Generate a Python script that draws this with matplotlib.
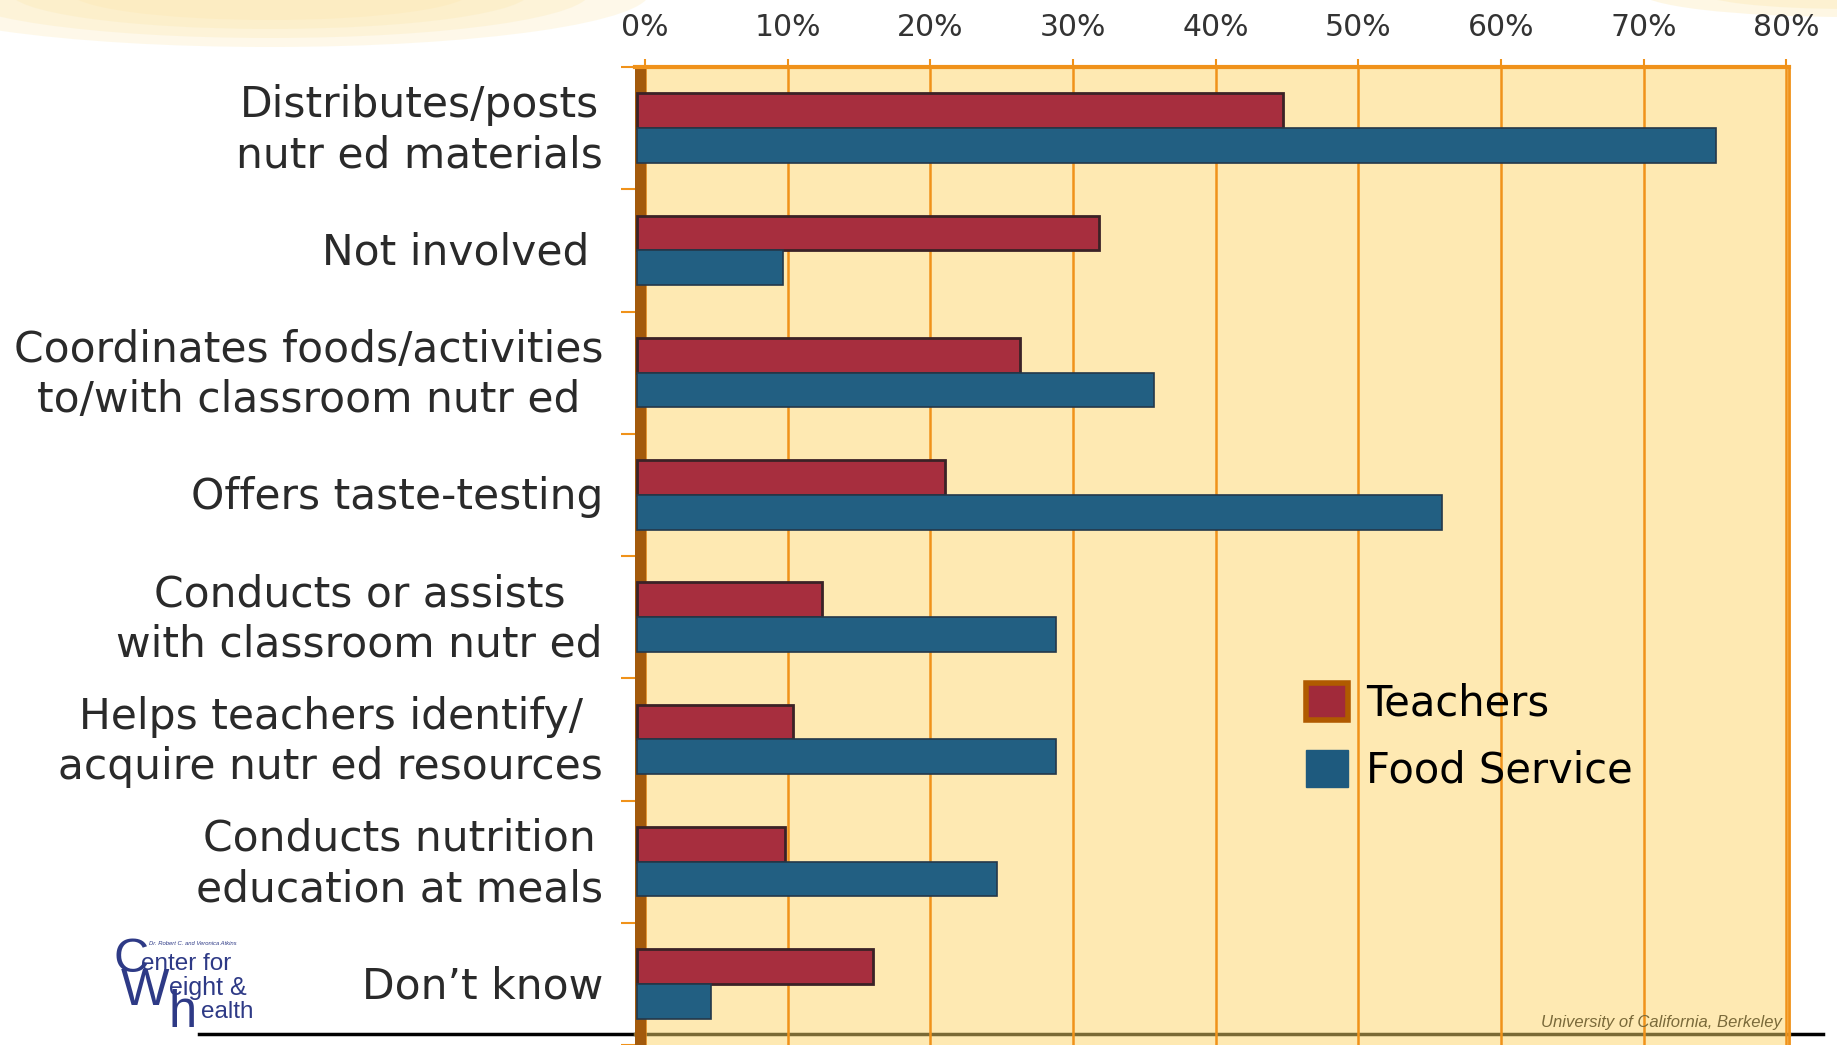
import numpy as np
import matplotlib
matplotlib.use("Agg")
import matplotlib.pyplot as plt
import matplotlib.transforms as mtransforms
from matplotlib.patches import Patch, Ellipse
from matplotlib.lines import Line2D

categories = [
    "Distributes/posts\nnutr ed materials",
    "Not involved ",
    "Coordinates foods/activities\nto/with classroom nutr ed",
    "Offers taste-testing",
    "Conducts or assists\nwith classroom nutr ed",
    "Helps teachers identify/\nacquire nutr ed resources",
    "Conducts nutrition\neducation at meals",
    "Don\u2019t know",
]
teachers = [44.7, 31.8, 26.3, 21.0, 12.4, 10.4, 9.8, 16.0]
food_service = [75.1, 9.7, 35.7, 55.9, 28.8, 28.8, 24.7, 4.6]
xticks = [0, 10, 20, 30, 40, 50, 60, 70, 80]

W, H = 1837, 1045
red = "#A72E3E"
blue = "#225F82"
orange = "#F0921A"
plot_bg = "#FEE9B2"

def fx(x):
    return x / W

def fy(y):
    return 1 - y / H

fig = plt.figure(figsize=(W / 100, H / 100), dpi=100)
fig.patch.set_facecolor("white")

# faint yellow swoosh at the top of the slide (soft, layered)
for w, hh in [(760, 110), (640, 92), (520, 74), (400, 56)]:
    fig.add_artist(Ellipse((fx(270), fy(-8)), w / W, hh / H, color="#FCE6A8",
                           alpha=0.25, lw=0, zorder=0))
for w, hh in [(420, 50), (300, 34)]:
    fig.add_artist(Ellipse((fx(1850), fy(-8)), w / W, hh / H, color="#FCE6A8",
                           alpha=0.3, lw=0, zorder=0))

ax = fig.add_axes([fx(635), 0, (1789 - 635) / W, 1 - 67 / H])
ax.set_facecolor(plot_bg)
ax.set_xlim(-0.7, 80.2)
ax.set_ylim(len(categories) - 0.5, -0.5)

y = np.arange(len(categories))
h = 0.285
start = -0.55
ax.barh(y - h / 2, np.array(teachers) - start, left=start, height=h, color=red,
        edgecolor="#3b2226", linewidth=2, zorder=3)
ax.barh(y + h / 2, np.array(food_service) - start, left=start, height=h, color=blue,
        edgecolor="#24384a", linewidth=1.2, zorder=3)

# brown wall at the left
ax.axvspan(-0.7, 0, color="#A35A0C", zorder=2)

ax.set_axisbelow(True)
ax.grid(axis="x", color=orange, linewidth=1.8)
ax.grid(axis="y", visible=False)
ax.xaxis.tick_top()
ax.set_xticks(xticks)
ax.set_xticklabels([f"{t}%" for t in xticks])
ax.tick_params(axis="x", colors=orange, length=6, width=1.5, pad=12,
               labelsize=21.5, labelcolor="#333333")
ax.set_yticks(np.arange(len(categories) + 1) - 0.5, minor=True)
ax.set_yticks([])
ax.tick_params(axis="y", which="minor", colors=orange, length=10, width=1.5)
for s in ["left", "bottom"]:
    ax.spines[s].set_visible(False)
ax.spines["top"].set_color(orange)
ax.spines["top"].set_linewidth(3)
ax.spines["right"].set_color(orange)
ax.spines["right"].set_linewidth(2)

trans = mtransforms.blended_transform_factory(fig.transFigure, ax.transData)
for i, lab in enumerate(categories):
    ax.text(fx(603), i + 0.02, lab, transform=trans, ha="right", va="center",
            multialignment="center", fontsize=30.5, color="#2a2a2a", linespacing=1.25)

handles = [Patch(facecolor="#A12A3A", edgecolor="#B05A00", linewidth=4),
           Patch(facecolor="#1E5A7E", edgecolor="#1E5A7E", linewidth=1)]
ax.legend(handles, ["Teachers", "Food Service"], loc="center left",
          bbox_to_anchor=(fx(1306), fy(737)), bbox_transform=fig.transFigure,
          frameon=False, fontsize=30, handlelength=1, handleheight=1,
          handletextpad=0.45, labelspacing=0.6, borderpad=0, borderaxespad=0)

# bottom rule of the slide
fig.add_artist(Line2D([fx(199), fx(1823)], [fy(1034), fy(1034)], color="black",
                      linewidth=2.5, zorder=0))
ax.add_line(Line2D([fx(635), fx(1789)], [fy(1034), fy(1034)], transform=fig.transFigure,
                   color="#7a6a35", linewidth=2.5, zorder=0.4, clip_on=False))

fig.text(fx(1782), fy(1022), "University of California, Berkeley", ha="right",
         va="center", fontsize=12, style="italic", color="#7a6a3a",
         family="Liberation Sans")

# logo
navy = "#2E3A86"
lf = "Liberation Sans"
logo = [
    (113, 972, "C", 35),
    (141, 970, "enter for", 17.5),
    (121, 1005, "W", 37),
    (169, 995, "eight &", 18),
    (169, 1027, "h", 36.5),
    (201, 1018, "ealth", 17.5),
]
for x0, y0, s, size in logo:
    fig.text(fx(x0), fy(y0), s, fontsize=size, color=navy, family=lf,
             ha="left", va="baseline")
fig.text(fx(149), fy(945), "Dr. Robert C. and Veronica Atkins", fontsize=4.2,
         color=navy, family=lf, style="italic", ha="left", va="baseline")

fig.savefig("out.png", dpi=100)
